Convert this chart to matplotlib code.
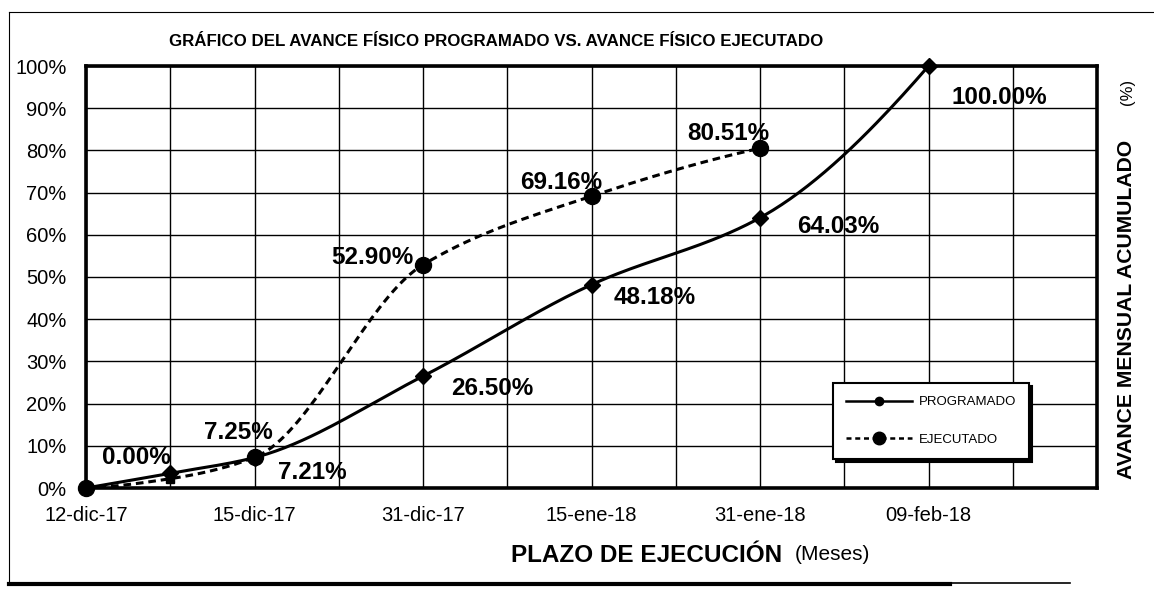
import numpy as np
import matplotlib
matplotlib.use("Agg")
import matplotlib.pyplot as plt
from matplotlib.lines import Line2D

plt.rcParams['font.family'] = ['Liberation Sans', 'DejaVu Sans']

# category positions (one per grid column), labels every second column
tick_pos = [0, 2, 4, 6, 8, 10]
tick_labels = ['12-dic-17', '15-dic-17', '31-dic-17', '15-ene-18', '31-ene-18', '09-feb-18']

prog_x = [0, 1, 2, 4, 6, 8, 10]
prog_y = [0.0, 3.5, 7.21, 26.50, 48.18, 64.03, 100.00]

ejec_x = [0, 1, 2, 4, 6, 8]
ejec_y = [0.0, 2.2, 7.25, 52.90, 69.16, 80.51]

# (serie, index, text, dx px, dy px)
labels = [
    ('e', 0, '0.00%', 50, 30),
    ('e', 2, '7.25%', -16, 25),
    ('p', 2, '7.21%', 58, -15),
    ('e', 3, '52.90%', -51, 7),
    ('p', 3, '26.50%', 69, -12),
    ('p', 4, '48.18%', 63, -13),
    ('e', 4, '69.16%', -30, 14),
    ('e', 5, '80.51%', -32, 15),
    ('p', 5, '64.03%', 78, -9),
    ('p', 6, '100.00%', 71, -31),
]


def smooth(xs, ys, n=40):
    # smoothed line through the points (monotone cubic hermite)
    x = np.asarray(xs, float)
    y = np.asarray(ys, float)
    h = np.diff(x)
    d = np.diff(y) / h
    m = np.zeros_like(y)
    for k in range(1, len(x) - 1):
        if d[k - 1] * d[k] > 0:
            w1 = 2 * h[k] + h[k - 1]
            w2 = h[k] + 2 * h[k - 1]
            m[k] = (w1 + w2) / (w1 / d[k - 1] + w2 / d[k])
    m[0] = max(((2 * h[0] + h[1]) * d[0] - h[0] * d[1]) / (h[0] + h[1]), 0)
    m[-1] = max(((2 * h[-1] + h[-2]) * d[-1] - h[-1] * d[-2]) / (h[-1] + h[-2]), 0)
    xo, yo = [], []
    for k in range(len(h)):
        t = np.linspace(0, 1, n)
        if k > 0:
            t = t[1:]
        h00 = 2 * t**3 - 3 * t**2 + 1
        h10 = t**3 - 2 * t**2 + t
        h01 = -2 * t**3 + 3 * t**2
        h11 = t**3 - t**2
        xo.append(x[k] + t * h[k])
        yo.append(h00 * y[k] + h10 * h[k] * m[k] + h01 * y[k + 1] + h11 * h[k] * m[k + 1])
    return np.concatenate(xo), np.concatenate(yo)


fig = plt.figure(figsize=(11.54, 5.93), dpi=100)
W, H = 1154, 593
ax = fig.add_axes([86 / W, 1 - 488 / H, (1097 - 86) / W, (488 - 66) / H])

ax.set_xlim(0, 12)
ax.set_ylim(0, 100)
ax.set_xticks(np.arange(0, 13), minor=True)
ax.set_xticks(tick_pos)
ax.set_xticklabels(tick_labels, fontsize=14.5)
ax.set_yticks(np.arange(0, 101, 10))
ax.set_yticklabels(['%d%%' % v for v in range(0, 101, 10)], fontsize=14.5)
ax.tick_params(axis='both', which='both', length=0)
ax.tick_params(axis='x', pad=13)
ax.tick_params(axis='y', pad=14)
ax.grid(True, which='both', color='black', linewidth=1.0)
ax.set_axisbelow(True)
for s in ax.spines.values():
    s.set_linewidth(2.6)

px, py = smooth(prog_x, prog_y)
ex, ey = smooth(ejec_x, ejec_y)
ax.plot(px, py, color='black', lw=2.2, zorder=3)
ax.plot(ex, ey, color='black', lw=2.2, dashes=(2.5, 1.6), zorder=3)
ax.plot(prog_x, prog_y, ls='none', marker='D', ms=8, color='black', zorder=4, clip_on=False)
mk = [0, 2, 3, 4, 5]
ax.plot([ejec_x[i] for i in mk], [ejec_y[i] for i in mk], ls='none', marker='o', ms=11.5,
        color='black', zorder=5, clip_on=False)
ax.plot(ejec_x[1], ejec_y[1], ls='none', marker='s', ms=5.5, color='black', zorder=5)

for serie, i, txt, dx, dy in labels:
    if serie == 'p':
        xy = (prog_x[i], prog_y[i])
    else:
        xy = (ejec_x[i], ejec_y[i])
    ax.annotate(txt, xy=xy, xytext=(dx, dy), textcoords='offset pixels',
                ha='center', va='center', fontsize=17.5, fontweight='bold', zorder=6)

h1 = Line2D([], [], color='black', lw=1.8, marker='o', ms=6)
h2 = Line2D([], [], color='black', lw=1.8, dashes=(2, 1.5), marker='o', ms=9)
leg = ax.legend([h1, h2], ['PROGRAMADO', 'EJECUTADO'], loc='upper left',
                bbox_to_anchor=((833 - 86) / 1011, (488 - 383) / 422), borderaxespad=0,
                fontsize=9.5, handlelength=5.0, handletextpad=0.5, labelspacing=1.9,
                borderpad=1.0, fancybox=False, framealpha=1, edgecolor='black',
                shadow={'color': 'black', 'alpha': 1})
leg.get_frame().set_linewidth(1.5)

fig.text(496 / W, 1 - 42 / H, 'GRÁFICO DEL AVANCE FÍSICO PROGRAMADO VS. AVANCE FÍSICO EJECUTADO',
         ha='center', va='center', fontsize=12.2, fontweight='bold')
fig.text(782 / W, 1 - 555 / H, 'PLAZO DE EJECUCIÓN', ha='right', va='center',
         fontsize=17.5, fontweight='bold')
fig.text(795 / W, 1 - 555 / H, '(Meses)', ha='left', va='center', fontsize=15)
fig.text(1126 / W, 1 - 309 / H, 'AVANCE MENSUAL ACUMULADO', rotation=90, ha='center',
         va='center', fontsize=15.2, fontweight='bold')
fig.text(1127 / W, 1 - 92 / H, '(%)', rotation=90, ha='center', va='center', fontsize=12)

# outer frame of the sheet
fig.add_artist(Line2D([9 / W, 9 / W], [1 - 12 / H, 1 - 584 / H], color='black', lw=0.8))
fig.add_artist(Line2D([9 / W, 1 / 1], [1 - 12 / H, 1 - 12 / H], color='black', lw=0.8))
fig.add_artist(Line2D([9 / W, 950 / W], [1 - 584 / H, 1 - 584 / H], color='black', lw=3))
fig.add_artist(Line2D([950 / W, 1070 / W], [1 - 583 / H, 1 - 583 / H], color='black', lw=1.2))

fig.savefig('out.png', dpi=100)
